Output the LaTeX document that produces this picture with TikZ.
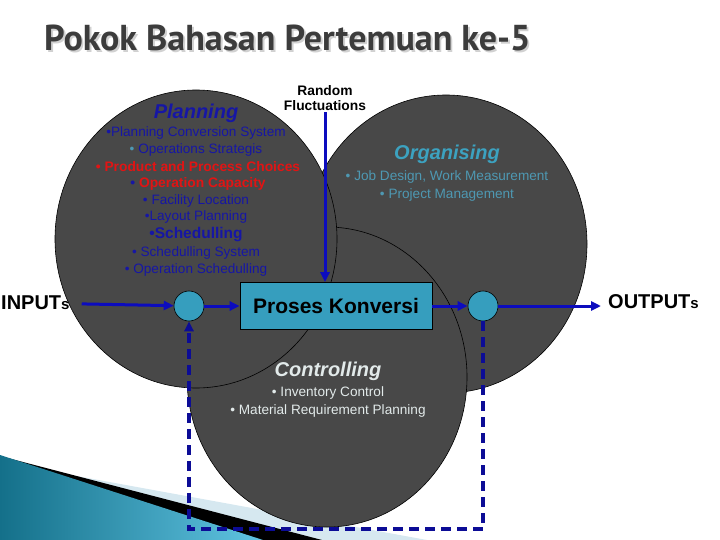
\documentclass[tikz,border=0pt]{standalone}
\usepackage{fontspec}
\setmainfont{Liberation Sans}
\newfontfamily\titlefont{PT Sans}
\usepackage{xcolor}
\usetikzlibrary{positioning,arrows.meta}

\definecolor{discgray}{RGB}{72,72,72}
\definecolor{procteal}{RGB}{54,158,190}
\definecolor{flowblue}{RGB}{12,12,190}
\definecolor{loopblue}{RGB}{12,12,150}
\definecolor{planblue}{RGB}{22,22,165}
\definecolor{choicered}{RGB}{225,20,20}
\definecolor{orgteal}{RGB}{60,162,192}
\definecolor{orgtext}{RGB}{78,152,178}
\definecolor{ctrlwhite}{RGB}{226,234,234}
\definecolor{swooshpale}{RGB}{214,232,240}
\definecolor{swooshdark}{RGB}{20,112,138}
\definecolor{swooshlight}{RGB}{96,196,226}
\definecolor{titlegray}{RGB}{60,60,60}

\begin{document}
\begin{tikzpicture}[x=1pt,y=-1pt,
  disc/.style={fill=discgray, draw=black, line width=0.6pt},
  junction/.style={circle, fill=procteal, draw=black, line width=0.6pt, minimum size=30pt, inner sep=0pt},
  flow/.style={flowblue, line width=3pt, -{Triangle[length=10pt,width=9pt]}},
  feedback/.style={loopblue, line width=3.5pt, dash pattern=on 10pt off 6pt, -{Triangle[length=10pt,width=9pt]}},
  heading/.style={font=\fontsize{20}{20}\selectfont\bfseries\itshape, inner sep=1pt},
  item/.style={font=\fontsize{13.6}{14}\selectfont, inner sep=1pt},
  boldtext/.style={font=\fontsize{13.8}{15.5}\selectfont\bfseries, inner sep=1pt}]
\useasboundingbox (0,0) rectangle (720,540);
% swoosh
\fill[swooshpale] (0,462) -- (427,540) -- (0,540) -- cycle;
\fill[black] (0,456) -- (322,540) -- (0,540) -- cycle;
\shade[left color=swooshdark, right color=swooshlight] (0,455) -- (263,540) -- (0,540) -- cycle;
% title, with its shadow
\node[anchor=base west, inner sep=0pt, text=titlegray, font=\titlefont\fontsize{36}{36}\selectfont\bfseries] (title) at (44,51)
  {\rlap{\hspace{2pt}\raisebox{-2pt}{\color{black!18}Pokok Bahasan Pertemuan ke-5}}Pokok Bahasan Pertemuan ke-5};
% discs
\filldraw[disc] (446,244) ellipse [x radius=141pt, y radius=149pt];
\filldraw[disc] (327,377) ellipse [x radius=140pt, y radius=150pt];
\filldraw[disc] (196,239) ellipse [x radius=141pt, y radius=149pt];
% planning
\node[heading, text=planblue] (planning) at (196,113) {Planning};
\node[item, text=planblue] (plan1) at (196,133) {•Planning Conversion System};
\node[item, text=planblue] (plan2) at (196,150) {{\color{orgtext}•} Operations Strategis};
\node[boldtext, text=choicered] (plan3) at (198,167) {• Product and Process Choices};
\node[boldtext, text=choicered] (plan4) at (198,184) {{\color{planblue}•} Operation Capacity};
\node[item, text=planblue] (plan5) at (196,201) {• Facility Location};
\node[item, text=planblue] (plan6) at (196,217) {•Layout Planning};
\node[font=\fontsize{15.5}{16}\selectfont\bfseries, text=planblue, inner sep=1pt] (sched) at (196,235) {•Schedulling};
\node[item, text=planblue] (plan7) at (196,253) {• Schedulling System};
\node[item, text=planblue] (plan8) at (196,270) {• Operation Schedulling};
% organising
\node[heading, text=orgteal] (organising) at (447,154) {Organising};
\node[item, text=orgtext] (org1) at (447,177) {• Job Design, Work Measurement};
\node[item, text=orgtext] (org2) at (447,195) {• Project Management};
% controlling
\node[heading, text=ctrlwhite] (controlling) at (328,371) {Controlling};
\node[item, text=ctrlwhite] (ctrl1) at (328,393) {• Inventory Control};
\node[item, text=ctrlwhite] (ctrl2) at (328,411) {• Material Requirement Planning};
% process line
\node[draw=black, fill=procteal, line width=0.6pt, minimum width=192pt, minimum height=47pt, inner sep=0pt,
  font=\fontsize{21}{21}\selectfont\bfseries] (conv) at (336,306) {Proses Konversi};
\node[junction] (in) at (189,306) {};
\node[junction] (out) at (483,306) {};
\node[anchor=west, inner sep=1pt, font=\fontsize{20}{20}\selectfont\bfseries] (inputs) at (0,303) {INPUT{\fontsize{15}{15}\selectfont s}};
\node[anchor=west, inner sep=1pt, font=\fontsize{20}{20}\selectfont\bfseries] (outputs) at (607,302) {OUTPUT{\fontsize{15}{15}\selectfont s}};
\node[align=center, boldtext] (random) at (325,98) {Random\\Fluctuations};
\coordinate (loopbase) at (0,529);
\draw[flow, shorten <=11pt] (inputs) -- (in);
\draw[flow] (in) -- (conv);
\draw[flow] (conv) -- (out);
\draw[flow, shorten >=6pt] (out) -- (outputs.west |- out);
\draw[flow] (random.south) -- (random.south |- conv.north);
\draw[feedback] (out.south) -- (out.south |- loopbase) -| (in.south);
\end{tikzpicture}
\end{document}
